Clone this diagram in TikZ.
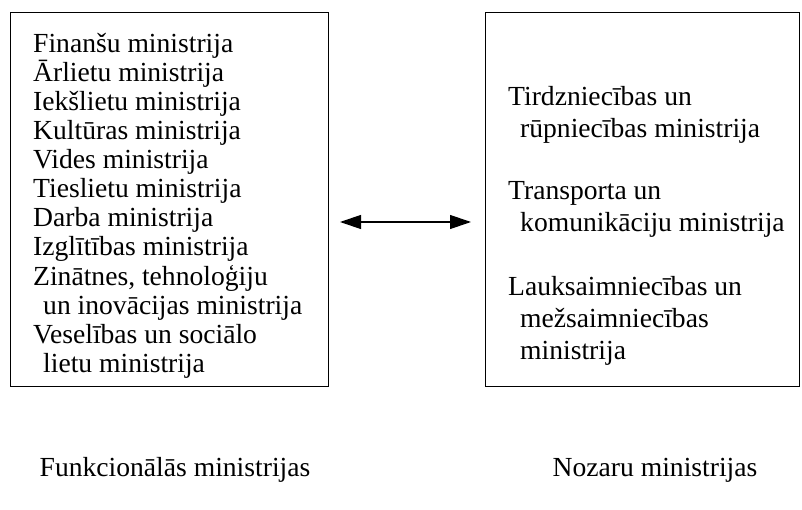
\documentclass[tikz,border=0pt]{standalone}
\usepackage{fontspec}
\setmainfont{Liberation Serif}
\usetikzlibrary{arrows.meta, calc}
\tikzset{ministrybox/.style={draw, line width=1pt, inner sep=0pt}}
\tikzset{ministryline/.style={anchor=base west, inner sep=0pt, font=\fontsize{27.6}{29}\selectfont}}
\tikzset{grouplabel/.style={anchor=base, inner sep=0pt, font=\fontsize{27.6}{29}\selectfont}}

\begin{document}
\begin{tikzpicture}[x=1pt, y=-1pt]
  \useasboundingbox (0,0) rectangle (802,510);
  \node[ministrybox, minimum width=318pt, minimum height=373pt] (funk) at (169,199.5) {};
  \node[ministrybox, minimum width=314pt, minimum height=373pt] (noz) at (642,199.5) {};
  % functional ministries
  \foreach \dx/\txt [count=\i] in {0/Finanšu ministrija, 0/Ārlietu ministrija, 0/Iekšlietu ministrija,
      0/Kultūras ministrija, 0/Vides ministrija, 0/Tieslietu ministrija, 0/Darba ministrija,
      0/Izglītības ministrija, 0/{Zinātnes, tehnoloģiju}, 10/un inovācijas ministrija,
      0/Veselības un sociālo, 10/lietu ministrija}
    \node[ministryline] (f\i) at ({33+\dx}, {53+29*(\i-1)}) {\txt};
  % sector ministries
  \foreach \dx/\yy/\txt [count=\i] in {0/106/Tirdzniecības un, 12/138/rūpniecības ministrija,
      0/200/Transporta un, 12/232/komunikāciju ministrija, 0/295/Lauksaimniecības un,
      12/327/mežsaimniecības, 12/359/ministrija}
    \node[ministryline] (n\i) at ({508+\dx}, \yy) {\txt};
  \coordinate (arrL) at (340,222);
  \coordinate (arrR) at (471,222);
  \draw[{Triangle[length=21pt, width=14pt]}-{Triangle[length=21pt, width=14pt]}, line width=1.2pt] (arrL) -- (arrR);
  \node[grouplabel] (funklabel) at (175,476) {Funkcionālās ministrijas};
  \node[grouplabel] (nozlabel) at (655,476) {Nozaru ministrijas};
\end{tikzpicture}
\end{document}
